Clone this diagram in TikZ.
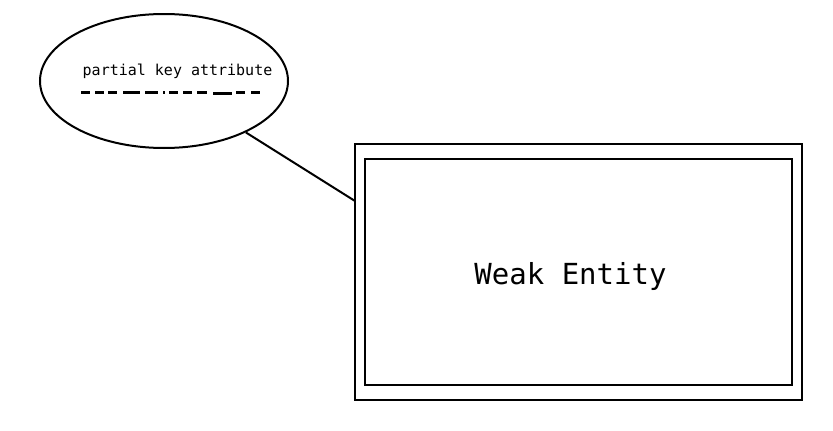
\documentclass[tikz,border=0pt]{standalone}
\usepackage{fontspec}
\setmonofont{DejaVu Sans Mono}
\usetikzlibrary{shapes.geometric}
\begin{document}
\begin{tikzpicture}[x=1pt,y=1pt,
  edge/.style={line width=2pt,draw=black},
  boxline/.style={draw=black,line width=2.2pt,rectangle,inner sep=0pt},
  dashseg/.style={line width=3pt,draw=black}]
\useasboundingbox[fill=white] (0,0) rectangle (833,-431);
% attribute ellipse
\node[ellipse,draw=black,line width=2pt,minimum width=248pt,minimum height=134pt,inner sep=0pt] (attr) at (164,-81) {};
\node[anchor=base west,inner sep=0pt,font=\ttfamily\fontsize{15}{15}\selectfont] (attrtext) at (82.5,-75) {partial key attribute};
% irregular dashed underline
\foreach \a/\b/\y in {81/90/92,95/104/92,108/117/92,123/140/92,145/158/92,163/165/92,169/178/92,183/192/92,197/207/92,213/232/93,236/245/92,251/260/92}{
  \draw[dashseg] (\a,-\y) -- (\b,-\y);
}
% weak entity
\node[boxline,minimum width=447pt,minimum height=256pt] (outer) at (578.5,-272) {};
\node[boxline,minimum width=427pt,minimum height=226pt] (inner) at (578.5,-272) {};
\node[anchor=base,inner sep=0pt,font=\ttfamily\fontsize{29}{30}\selectfont] (label) at (570.5,-284) {Weak Entity};
\coordinate (join) at (355,-201);
\draw[edge] (attr) -- (join);
\end{tikzpicture}
\end{document}
